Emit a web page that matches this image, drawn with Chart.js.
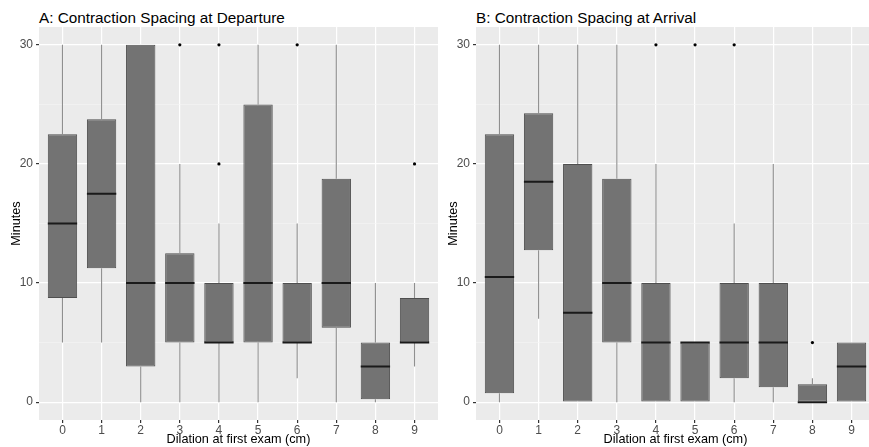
<!DOCTYPE html>
<html lang="en">
<head>
  <meta charset="UTF-8">
  <title>Contraction Spacing</title>
  <script src="https://cdn.jsdelivr.net/npm/chart.js"></script>
  <style>
    body {
      margin: 0;
      background: #ffffff;
      width: 869px;
      height: 447px;
      overflow: hidden;
      position: relative;
      font-family: 'Liberation Sans', Arial, sans-serif;
    }
    canvas {
      position: absolute;
      top: 0;
    }
    #chartA { left: 0; }
    #chartB { left: 437px; }
    .panel-title {
      position: absolute;
      top: 10px;
      font-size: 15.3px;
      line-height: 15px;
      color: #000;
      white-space: nowrap;
    }
  </style>
</head>
<body>

  <div class="panel-title" style="left:39px">A: Contraction Spacing at Departure</div>
  <div class="panel-title" style="left:476px">B: Contraction Spacing at Arrival</div>

  <canvas id="chartA" width="442" height="447"></canvas>
  <canvas id="chartB" width="442" height="447"></canvas>

  <script>
    const dilation = ['0', '1', '2', '3', '4', '5', '6', '7', '8', '9'];
    const yTicks = [0, 5, 10, 15, 20, 25, 30];

    // A: departure
    const depLow    = [5, 5, 0, 0, 0, 0, 2, 0, 0, 3];
    const depQ1     = [8.75, 11.25, 3, 5, 5, 5, 5, 6.25, 0.25, 5];
    const depMedian = [15, 17.5, 10, 10, 5, 10, 5, 10, 3, 5];
    const depQ3     = [22.5, 23.75, 30, 12.5, 10, 25, 10, 18.75, 5, 8.75];
    const depHigh   = [30, 30, 30, 20, 15, 30, 15, 30, 10, 10];
    const depOutliers = [[], [], [], [30], [20, 30], [], [30], [], [], [20]];

    // B: arrival
    const arrLow    = [0, 7, 0, 0, 0, 0, 0, 0, 0, 0];
    const arrQ1     = [0.75, 12.75, 0, 5, 0, 0, 2, 1.25, 0, 0];
    const arrMedian = [10.5, 18.5, 7.5, 10, 5, 5, 5, 5, 0, 3];
    const arrQ3     = [22.5, 24.25, 20, 18.75, 10, 5, 10, 10, 1.5, 5];
    const arrHigh   = [30, 30, 30, 30, 20, 5, 15, 20, 2, 5];
    const arrOutliers = [[], [], [], [], [30], [30], [30], [], [5], []];

    const panelBg = {
      id: 'panelBg',
      beforeDraw(chart) {
        const a = chart.chartArea;
        const c = chart.ctx;
        c.save();
        c.fillStyle = '#ebebeb';
        c.fillRect(a.left, a.top, a.right - a.left, a.bottom - a.top);
        c.restore();
      }
    };

    function boxChart(id, low, q1, median, q3, high, outliers) {
      const boxes = dilation.map((d, i) => ({ x: i, y: [q1[i], q3[i]] }));
      const whiskers = [];
      const medians = [];
      const points = [];
      dilation.forEach((d, i) => {
        whiskers.push({ x: i, y: low[i] }, { x: i, y: q1[i] }, { x: i, y: null });
        whiskers.push({ x: i, y: q3[i] }, { x: i, y: high[i] }, { x: i, y: null });
        medians.push({ x: i - 0.375, y: median[i] }, { x: i + 0.375, y: median[i] }, { x: i, y: null });
        outliers[i].forEach(v => points.push({ x: i, y: v }));
      });

      const tickFont = { family: "'Liberation Sans', Arial, sans-serif", size: 12 };
      const titleFont = { family: "'Liberation Sans', Arial, sans-serif", size: 12.7 };

      return new Chart(document.getElementById(id), {
        type: 'bar',
        data: {
          datasets: [
            {
              type: 'line',
              data: whiskers,
              borderColor: '#8f8f8f',
              borderWidth: 1.1,
              pointRadius: 0,
              spanGaps: false,
              order: 3
            },
            {
              type: 'bar',
              data: boxes,
              backgroundColor: '#737373',
              borderColor: '#4f4f4f',
              borderWidth: 1,
              borderSkipped: false,
              categoryPercentage: 0.75,
              barPercentage: 1,
              order: 2
            },
            {
              type: 'line',
              data: medians,
              borderColor: '#1a1a1a',
              borderWidth: 2,
              pointRadius: 0,
              spanGaps: false,
              order: 1
            },
            {
              type: 'scatter',
              data: points,
              backgroundColor: '#000000',
              borderWidth: 0,
              pointRadius: 1.6,
              order: 0
            }
          ]
        },
        options: {
          responsive: false,
          animation: false,
          layout: { padding: { top: 27, left: 0, right: 0, bottom: 0 } },
          plugins: {
            legend: { display: false },
            tooltip: { enabled: false }
          },
          scales: {
            x: {
              type: 'linear',
              min: -0.6,
              max: 9.6,
              offset: false,
              afterBuildTicks: s => { s.ticks = dilation.map((d, i) => ({ value: i })); },
              afterFit: s => { s.height = 27; },
              border: { display: false },
              grid: { color: '#ffffff', lineWidth: 1.2, offset: false, tickLength: 3, tickColor: '#333333' },
              ticks: {
                color: '#4d4d4d',
                font: tickFont,
                padding: 0,
                maxRotation: 0,
                callback: v => dilation[v]
              },
              title: {
                display: true,
                text: 'Dilation at first exam (cm)',
                color: '#000000',
                font: titleFont,
                padding: { top: 0, bottom: -0.5 }
              }
            },
            y: {
              min: -1.5,
              max: 31.5,
              afterBuildTicks: s => { s.ticks = yTicks.map(v => ({ value: v })); },
              afterFit: s => { s.width = 39; },
              border: { display: false },
              grid: {
                color: c => c.tick.value % 10 === 0 ? '#ffffff' : '#f5f5f5',
                lineWidth: c => c.tick.value % 10 === 0 ? 1.2 : 0.6,
                tickLength: 3,
                tickColor: c => c.tick.value % 10 === 0 ? '#333333' : 'rgba(0,0,0,0)'
              },
              ticks: {
                color: '#4d4d4d',
                font: tickFont,
                padding: 3,
                callback: v => v % 10 === 0 ? v : ''
              },
              title: {
                display: true,
                text: 'Minutes',
                color: '#000000',
                font: titleFont,
                padding: { top: 8.5, bottom: 0 }
              }
            }
          }
        },
        plugins: [panelBg]
      });
    }

    boxChart('chartA', depLow, depQ1, depMedian, depQ3, depHigh, depOutliers);
    boxChart('chartB', arrLow, arrQ1, arrMedian, arrQ3, arrHigh, arrOutliers);
  </script>

</body>
</html>
